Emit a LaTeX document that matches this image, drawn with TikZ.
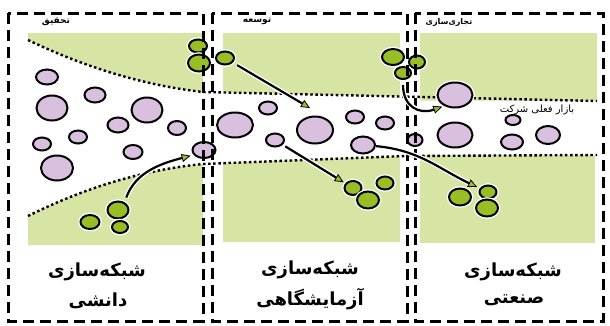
\documentclass[tikz,border=0pt]{standalone}
\usepackage{fontspec}
\usetikzlibrary{arrows.meta,shapes.geometric}
\TeXXeTstate=1
\newfontfamily\fa[Script=Arabic]{DejaVu Sans}
\definecolor{areagreen}{RGB}{214,228,164}
\definecolor{ballgreen}{RGB}{152,190,38}
\definecolor{ballpurple}{RGB}{216,192,222}

\tikzset{
  ball/.style={ellipse, draw=black, line width=2pt, inner sep=0pt,
    preaction={draw=white, line width=4.6pt}},
  sz/.style 2 args={minimum width=#1pt, minimum height=#2pt},
  pball/.style={ball, fill=ballpurple},
  gball/.style={ball, fill=ballgreen},
  bandedge/.style={line width=2.4pt, dash pattern=on 2.5pt off 2.6pt},
  panelframe/.style={line width=3pt, dash pattern=on 11pt off 6pt},
  flow/.style={line width=2.2pt,
    -{Triangle[length=9pt,width=8pt,fill=ballgreen,line width=0.8pt]},
    preaction={draw=white, line width=4.8pt, -, shorten >=6pt}},
  stage/.style={font=\fa\bfseries\fontsize{9}{10}\selectfont, inner sep=0pt},
  netlabel/.style={font=\fa\bfseries\fontsize{18}{21}\selectfont, inner sep=0pt},
}

\begin{document}
\begin{tikzpicture}[x=1pt, y=-1pt]
\useasboundingbox (0,0) rectangle (610,325);

% green regions outside the funnel
\fill[areagreen] (28,33) -- (203,33) -- (203,92)
   .. controls (140,85) and (80,65) .. (28,40) -- cycle;
\fill[areagreen] (28,216) .. controls (80,190) and (140,170) .. (203,164)
   -- (203,245) -- (28,245) -- cycle;
\fill[areagreen] (223,33) -- (400,33) -- (400,96.5) -- (223,92.5) -- cycle;
\fill[areagreen] (223,163) -- (400,156.2) -- (400,242) -- (223,242) -- cycle;
\fill[areagreen] (420,33) -- (597,33) -- (597,101) -- (420,100.5) -- cycle;
\fill[areagreen] (420,155) -- (595,155) -- (595,243) -- (420,243) -- cycle;

% funnel edges
\draw[bandedge] (28,40) .. controls (80,65) and (140,85) .. (203,92) -- (597,101);
\draw[bandedge] (28,216) .. controls (80,190) and (140,170) .. (203,164)
   -- (405,156) -- (597,155);

% purple balls
\node[pball, sz={22}{15}] (p1) at (47,77) {};
\node[pball, sz={21}{15}] (p2) at (95,95) {};
\node[pball, sz={31}{25}] (p3) at (52,108) {};
\node[pball, sz={31}{25}] (p4) at (147,110) {};
\node[pball, sz={21}{15}] (p5) at (118,125) {};
\node[pball, sz={18}{13}] (p6) at (78,137) {};
\node[pball, sz={18}{14}] (p7) at (177,128) {};
\node[pball, sz={18}{13}] (p8) at (42,144) {};
\node[pball, sz={19}{14}] (p9) at (133,152) {};
\node[pball, sz={23}{16}] (p10) at (204,150) {};
\node[pball, sz={32}{25}] (p11) at (57,168) {};
\node[pball, sz={18}{13}] (p12) at (268,108) {};
\node[pball, sz={36}{25}] (p13) at (235,125) {};
\node[pball, sz={36}{27}] (p14) at (315,130) {};
\node[pball, sz={18}{13}] (p15) at (275,140) {};
\node[pball, sz={18}{13}] (p16) at (355,117) {};
\node[pball, sz={18}{13}] (p17) at (385,123) {};
\node[pball, sz={24}{17}] (p18) at (363,145) {};
\node[pball, sz={35}{25}] (p19) at (455,95) {};
\node[pball, sz={35}{25}] (p20) at (455,135) {};
\node[pball, sz={15}{10}] (p21) at (513,120) {};
\node[pball, sz={22}{15}] (p22) at (512,142) {};
\node[pball, sz={24}{18}] (p23) at (548,135) {};
\node[pball, sz={15}{12}] (p24) at (415,140) {};

% green balls
\node[gball, sz={18}{13}] (g1) at (198,46) {};
\node[gball, sz={22}{17}] (g2) at (199,63) {};
\node[gball, sz={18}{13}] (g3) at (225,58) {};
\node[gball, sz={21}{17}] (g4) at (118,210) {};
\node[gball, sz={19}{14}] (g5) at (90,222) {};
\node[gball, sz={16}{12}] (g6) at (120,227) {};
\node[gball, sz={17}{14}] (g7) at (353,188) {};
\node[gball, sz={17}{13}] (g8) at (385,183) {};
\node[gball, sz={22}{17}] (g9) at (368,200) {};
\node[gball, sz={22}{16}] (g10) at (393,57) {};
\node[gball, sz={16}{13}] (g11) at (417,62) {};
\node[gball, sz={16}{12}] (g12) at (403,73) {};
\node[gball, sz={22}{17}] (g13) at (460,197) {};
\node[gball, sz={17}{13}] (g14) at (488,192) {};
\node[gball, sz={22}{17}] (g15) at (487,208) {};

% stage frames
\draw[panelframe] (8,13) rectangle (203,321);
\draw[panelframe] (212,13) rectangle (407,321);
\draw[panelframe] (415,13) rectangle (603,321);

% flows
\coordinate (c2) at (310,108);
\draw[flow, shorten <=5pt, shorten >=3pt] (g4.50) to[out=70,in=195] (p10.205);
\draw[flow, shorten <=5pt] (g3) -- (c2);
\draw[flow, shorten <=3pt, shorten >=2pt] (p15) -- (g7);
\draw[flow, shorten >=3pt] (p18) to[out=-5,in=155] (g14);
\draw[flow, shorten <=5pt, shorten >=2pt] (g12.south) to[out=-90,in=200,looseness=1.4] (p19.225);

% stage names
\node[stage] (s1) at (56,22) {\beginR تحقیق\endR};
\node[stage] (s2) at (257,21) {\beginR توسعه\endR};
\node[stage, font=\fa\bfseries\fontsize{8}{9}\selectfont] (s3) at (449,22) {\beginR تجاری‌سازی\endR};
\node[stage, font=\fa\fontsize{10}{11}\selectfont] (mk) at (537,110) {\beginR بازار فعلی شرکت\endR};

% network labels
\node[netlabel] (n1a) at (97,272) {\beginR شبکه‌سازی\endR};
\node[netlabel] (n1b) at (98,301) {\beginR دانشی\endR};
\node[netlabel] (n2a) at (310,270) {\beginR شبکه‌سازی\endR};
\node[netlabel] (n2b) at (310,299) {\beginR آزمایشگاهی\endR};
\node[netlabel] (n3a) at (513,272) {\beginR شبکه‌سازی\endR};
\node[netlabel] (n3b) at (514,300) {\beginR صنعتی\endR};
\end{tikzpicture}
\end{document}
